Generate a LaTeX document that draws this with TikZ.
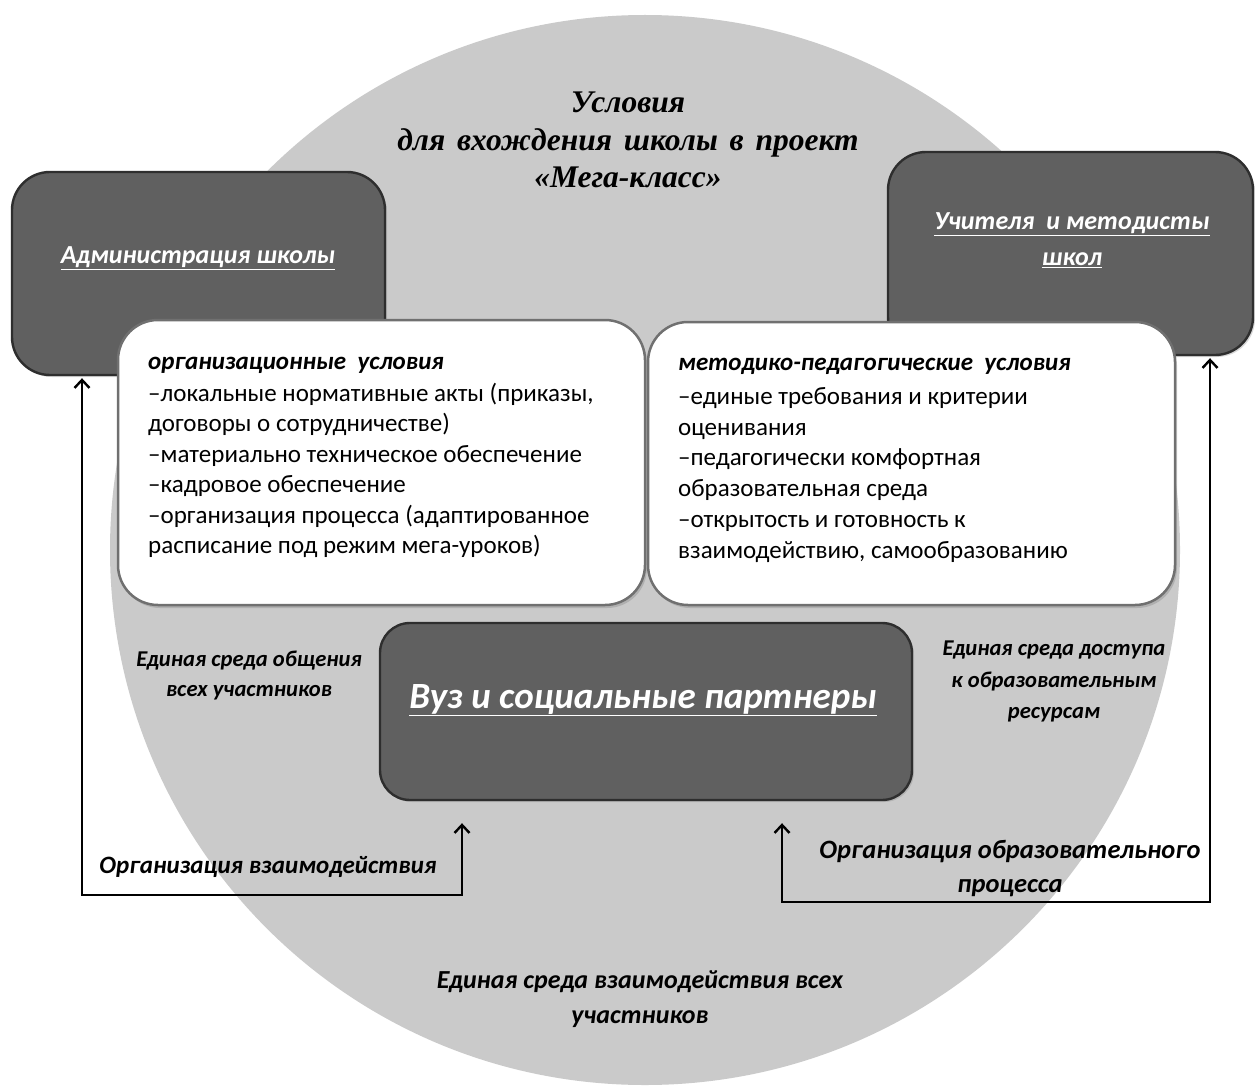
\documentclass[tikz,border=0pt]{standalone}
\usepackage{fontspec}
\setmainfont{Carlito}
\newfontfamily\titleserif{Liberation Serif}
\usetikzlibrary{arrows.meta,shadows}
\definecolor{circgray}{HTML}{CACACA}
\definecolor{darkfill}{HTML}{606060}
\definecolor{darkedge}{HTML}{2E2E2E}
\definecolor{whiteedge}{HTML}{707070}
\begin{document}
\begin{tikzpicture}[x=1pt,y=-1pt,
  darkpanel/.style={draw=darkedge, line width=2.4pt, fill=darkfill, rounded corners=38pt, inner sep=0pt,
    drop shadow={opacity=0.3, shadow xshift=2pt, shadow yshift=-2pt}},
  whitepanel/.style={draw=whiteedge, line width=2.5pt, fill=white, rounded corners=40pt, inner sep=0pt,
    drop shadow={opacity=0.35, shadow xshift=2pt, shadow yshift=-3pt}},
  panellabel/.style={text=white, align=center, font=\bfseries\itshape\fontsize{26}{36}\selectfont},
  graylabel/.style={text=black, align=center, font=\bfseries\itshape\fontsize{22.6}{30}\selectfont},
  arrowlabel/.style={text=black, align=center, font=\bfseries\itshape\fontsize{25}{34}\selectfont},
  bodytext/.style={text=black, align=left, anchor=north west, inner sep=0pt,
    font=\fontsize{25}{30.5}\selectfont},
  conn/.style={line width=2.4pt, arrows={Straight Barb[length=8pt,width=15pt]-Straight Barb[length=8pt,width=15pt]}}
]
\useasboundingbox (0,0) rectangle (1255,1086);
\fill[white] (0,0) rectangle (1255,1086);
% background disc
\fill[circgray] (645,550) circle (535pt);

% title
\node[align=center, font=\titleserif\bfseries\itshape\fontsize{31.5}{37.5}\selectfont] (title) at (628,140)
  {Условия\\для\hspace{4pt} вхождения\hspace{4pt} школы\hspace{4pt} в\hspace{4pt} проект\\«Мега-класс»};

% dark corner panels
\node[darkpanel, minimum width=373pt, minimum height=203pt] (admin) at (198.5,273.5) {};
\node[darkpanel, minimum width=365pt, minimum height=203pt] (teach) at (1070.5,253.5) {};
\node[panellabel] (adminlbl) at (198,258) {\underline{Администрация школы}};
\node[panellabel] (teachlbl) at (1072,240) {\underline{Учителя\ \ и методисты}\\\underline{школ}};

% white condition panels
\node[whitepanel, minimum width=527pt, minimum height=285pt] (org) at (381.5,462.5) {};
\node[whitepanel, minimum width=527pt, minimum height=283pt] (met) at (911.5,463.5) {};

\node[bodytext] (orgtxt) at (148,357) {\textbf{\textit{организационные\ \ условия}}\\[1pt]
–локальные нормативные акты (приказы,\\
договоры о сотрудничестве)\\
–материально техническое обеспечение\\
–кадровое обеспечение\\
–организация процесса (адаптированное\\
расписание под режим мега-уроков)};

\node[bodytext, font=\fontsize{25}{30.8}\selectfont] (mettxt) at (678,358) {\textbf{\textit{методико-педагогические\ \ условия}}\\[3pt]
–единые требования и критерии\\
оценивания\\
–педагогически комфортная\\
образовательная среда\\
–открытость и готовность к\\
взаимодействию, самообразованию};

% central panel
\node[darkpanel, minimum width=532pt, minimum height=177pt, rounded corners=30pt] (vuz) at (646,711.5) {};
\node[panellabel, font=\bfseries\itshape\fontsize{37}{40}\selectfont] (vuzlbl) at (643,700) {\underline{Вуз и социальные партнеры}};

% gray-area labels
\node[graylabel] (comm) at (249,675) {Единая среда общения\\всех участников};
\node[graylabel, font=\bfseries\itshape\fontsize{22.6}{31.5}\selectfont] (access) at (1054,681.5) {Единая среда доступа\\к образовательным\\ресурсам};
\node[arrowlabel, font=\bfseries\itshape\fontsize{26}{35}\selectfont] (common) at (640,999.5) {Единая среда взаимодействия всех\\участников};

% connectors
\coordinate (lbend) at (462,895);
\coordinate (lcorner) at (82,895);
\coordinate (rbend) at (782,902);
\coordinate (rcorner) at (1210,902);
\draw[conn, shorten <=22pt, shorten >=2pt] (vuz.south -| lbend) -- (lbend) -- (lcorner) -- (admin.south -| lcorner);
\draw[conn, shorten <=22pt, shorten >=2pt] (vuz.south -| rbend) -- (rbend) -- (rcorner) -- (teach.south -| rcorner);

\node[arrowlabel] (lorg) at (268,867) {Организация взаимодействия};
\node[arrowlabel, font=\bfseries\itshape\fontsize{26.5}{34}\selectfont] (rorg) at (1010,869) {Организация образовательного\\процесса};
\end{tikzpicture}
\end{document}
